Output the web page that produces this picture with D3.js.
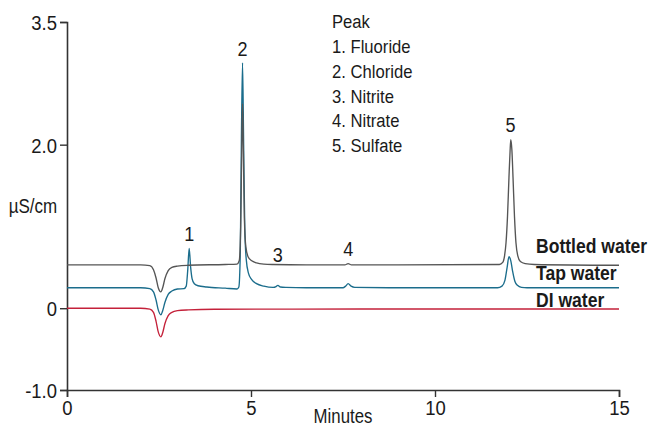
<!DOCTYPE html>
<html>
<head>
<meta charset="utf-8">
<script src="https://cdn.jsdelivr.net/npm/d3@7"></script>
<style>
  html, body { margin: 0; padding: 0; background: #fff; }
  svg { display: block; }
  text { font-family: "Liberation Sans", Arial, sans-serif; fill: #1a1a1a; }
</style>
</head>
<body>
<script>
// ---- data ----
const seriesNames = ["DI water", "Tap water", "Bottled water"];
const seriesColors = ["#c4213a", "#1b6d8c", "#555555"];

// retention time (min) and conductivity (µS/cm) points per trace
const diTime  = [0, 2.0, 2.25, 2.35, 2.42, 2.48, 2.55, 2.6, 2.66, 2.75, 2.85, 3.0, 3.3, 4.0, 8.0, 15];
const diValue = [0, 0, -0.01, -0.05, -0.16, -0.29, -0.35, -0.3, -0.19, -0.09, -0.05, -0.03, -0.02, -0.012, -0.01, -0.01];

const tapTime  = [0, 2.0, 2.25, 2.35, 2.42, 2.48, 2.55, 2.6, 2.66, 2.75, 2.85, 3.0, 3.18, 3.24, 3.28, 3.32, 3.36, 3.4, 3.46, 3.56, 3.8, 4.3, 4.62, 4.67, 4.71, 4.74, 4.77, 4.8, 4.83, 4.87, 4.93, 5.02, 5.15, 5.35, 5.6, 5.68, 5.73, 5.8, 5.95, 6.5, 7.5, 7.57, 7.64, 7.72, 7.82, 9.0, 11.7, 11.82, 11.9, 11.96, 12.01, 12.06, 12.11, 12.17, 12.24, 12.35, 12.5, 15];
const tapValue = [0.25, 0.25, 0.24, 0.2, 0.1, -0.02, -0.08, -0.03, 0.07, 0.17, 0.21, 0.235, 0.24, 0.27, 0.46, 0.73, 0.5, 0.36, 0.3, 0.275, 0.26, 0.245, 0.235, 0.26, 0.7, 2.1, 3.0, 2.0, 1.0, 0.6, 0.43, 0.35, 0.3, 0.27, 0.255, 0.265, 0.28, 0.26, 0.255, 0.25, 0.25, 0.27, 0.3, 0.27, 0.255, 0.25, 0.25, 0.27, 0.34, 0.5, 0.63, 0.58, 0.45, 0.33, 0.28, 0.255, 0.25, 0.25];

const botTime  = [0, 2.0, 2.25, 2.35, 2.42, 2.48, 2.55, 2.6, 2.66, 2.75, 2.85, 3.0, 3.3, 4.3, 4.62, 4.68, 4.72, 4.75, 4.77, 4.79, 4.82, 4.86, 4.92, 5.02, 5.15, 5.35, 5.6, 6.5, 7.55, 7.64, 7.73, 9.0, 11.75, 11.84, 11.89, 11.93, 11.97, 12.01, 12.04, 12.06, 12.09, 12.12, 12.16, 12.2, 12.25, 12.32, 12.45, 12.7, 15];
const botValue = [0.53, 0.53, 0.52, 0.47, 0.37, 0.25, 0.2, 0.25, 0.36, 0.46, 0.5, 0.515, 0.525, 0.535, 0.54, 0.58, 1.0, 2.0, 2.5, 2.0, 1.1, 0.75, 0.63, 0.58, 0.555, 0.54, 0.535, 0.53, 0.53, 0.545, 0.53, 0.53, 0.535, 0.56, 0.64, 0.8, 1.12, 1.6, 1.92, 2.06, 1.93, 1.6, 1.12, 0.8, 0.64, 0.57, 0.545, 0.535, 0.525];

const peakNumbers = ["1", "2", "3", "4", "5"];
const peakTimes   = [3.32, 4.77, 5.73, 7.64, 12.05];
const peakLabelValues = [0.82, 3.09, 0.565, 0.64, 2.15];

const legendTitle = "Peak";
const peakNames = ["1. Fluoride", "2. Chloride", "3. Nitrite", "4. Nitrate", "5. Sulfate"];

const xTicks = [0, 5, 10, 15];
const yTicks = [-1.0, 0, 2.0, 3.5];
const yTickLabels = ["-1.0", "0", "2.0", "3.5"];
const xTitle = "Minutes";
const yTitle = "µS/cm";

// ---- drawing ----
const W = 652, H = 426;
const svg = d3.select("body").append("svg").attr("width", W).attr("height", H);

// condense a text horizontally (reference uses a condensed face):
// move its anchor into a transform and scale x about that anchor
function condense(sel, k) {
  sel.each(function () {
    const t = d3.select(this);
    const tx = +t.attr("x") || 0, ty = +t.attr("y") || 0;
    const prev = t.attr("transform") || "";
    t.attr("x", 0).attr("y", 0)
     .attr("transform", `${prev} translate(${tx},${ty}) scale(${k},1)`);
  });
}

const x = d3.scaleLinear().domain([0, 15]).range([67, 619]);
const y = d3.scaleLinear().domain([-1, 3.5]).range([390, 22]);

// axes
const xAxis = d3.axisBottom(x).tickValues(xTicks).tickSize(7).tickPadding(2).tickFormat(d3.format("d"));
const gx = svg.append("g").attr("transform", `translate(0,${y(-1)})`).call(xAxis);
const yAxis = d3.axisLeft(y).tickValues(yTicks).tickSize(7).tickPadding(3).tickFormat((d, i) => yTickLabels[i]);
const gy = svg.append("g").attr("transform", `translate(${x(0)},0)`).call(yAxis);

[gx, gy].forEach(g => {
  g.select(".domain").attr("stroke", "#333").attr("stroke-width", 1.6);
  g.selectAll(".tick line").attr("stroke", "#333").attr("stroke-width", 1.4);
  g.selectAll(".tick text").attr("font-size", 21).attr("fill", "#1a1a1a")
    .style("font-family", '"Liberation Sans", Arial, sans-serif');
});
gx.selectAll(".tick text").attr("dy", "0.74em");
gy.selectAll(".tick text").attr("dy", "0.35em");
condense(gx.selectAll(".tick text"), 0.88);
condense(gy.selectAll(".tick text"), 0.88);

// axis titles
svg.append("text").attr("x", (x(0) + x(15)) / 2).attr("y", 423).attr("text-anchor", "middle")
  .attr("font-size", 20).text(xTitle).call(condense, 0.84);
svg.append("text").attr("x", 33).attr("y", 213).attr("text-anchor", "middle")
  .attr("font-size", 20).text(yTitle).call(condense, 0.85);

// traces
const traces = [
  { name: seriesNames[0], color: seriesColors[0], t: diTime, v: diValue },
  { name: seriesNames[1], color: seriesColors[1], t: tapTime, v: tapValue },
  { name: seriesNames[2], color: seriesColors[2], t: botTime, v: botValue }
];
const line = d3.line().x(d => x(d[0])).y(d => y(d[1])).curve(d3.curveMonotoneX);
traces.forEach(tr => {
  svg.append("path")
    .datum(tr.t.map((t, i) => [t, tr.v[i]]))
    .attr("fill", "none")
    .attr("stroke", tr.color)
    .attr("stroke-width", 1.35)
    .attr("stroke-linejoin", "round")
    .attr("d", line);
});

// series labels at right
const labelVals = [0.0, 0.25, 0.53];
const labelDy = [-1, -8, -12];
traces.forEach((tr, i) => {
  svg.append("text")
    .attr("x", 536)
    .attr("y", y(labelVals[i]) + labelDy[i])
    .attr("font-size", 19.5).attr("font-weight", "bold").attr("fill", "#111")
    .text(tr.name).call(condense, 0.9);
});

// peak number labels
peakNumbers.forEach((p, i) => {
  svg.append("text").attr("x", x(peakTimes[i])).attr("y", y(peakLabelValues[i]))
    .attr("text-anchor", "middle").attr("font-size", 20.5).text(p).call(condense, 0.88);
});

// legend
svg.append("text").attr("x", 332).attr("y", 28).attr("font-size", 18.5).text(legendTitle).call(condense, 0.9);
peakNames.forEach((n, i) => {
  svg.append("text").attr("x", 332).attr("y", 53 + i * 24.8).attr("font-size", 18.5).text(n).call(condense, 0.9);
});
</script>
</body>
</html>
